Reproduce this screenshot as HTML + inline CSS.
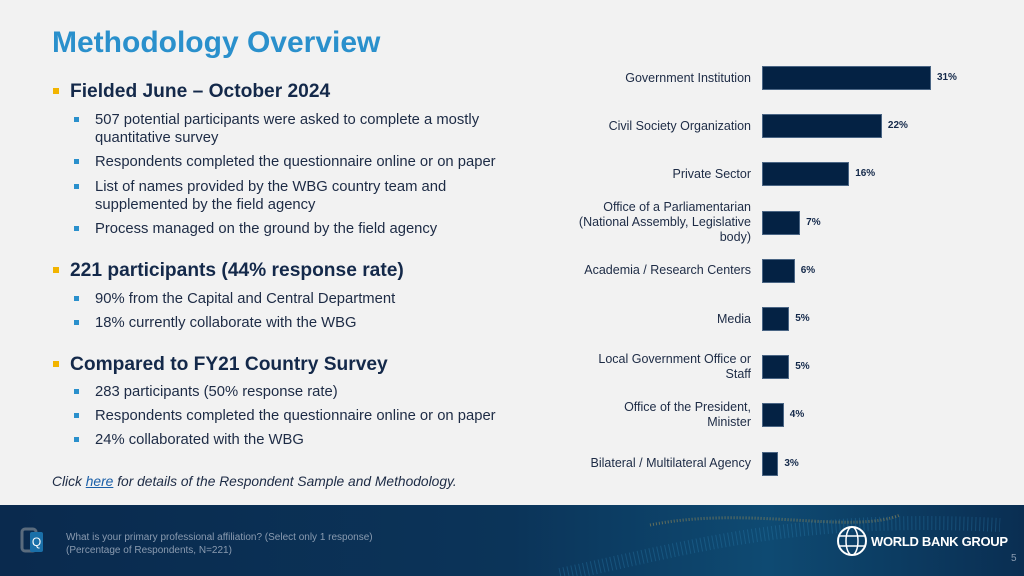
<!DOCTYPE html>
<html><head><meta charset="utf-8"><style>
body{margin:0;width:1024px;height:576px;overflow:hidden;background:#f2f2f2;font-family:"Liberation Sans",Arial,sans-serif;position:relative}
.a{position:absolute;white-space:nowrap}
.t{left:52px;top:26px;font-size:30px;font-weight:bold;color:#2a90cc;letter-spacing:0px}
.h{left:70px;font-size:19.2px;font-weight:bold;color:#14294a}
.hb{position:absolute;left:53px;width:6px;height:6px;background:#f2b400}
.s{left:95px;font-size:14.8px;color:#1d2b45;line-height:18px}
.sb{position:absolute;left:74px;width:5px;height:5px;background:#2a90cc}
.lbl{font-size:12.5px;color:#1d2b45;text-align:right;line-height:15px}
.val{font-size:10px;font-weight:bold;color:#14294a}
</style></head><body>
<div class="a t">Methodology Overview</div>

<div class="hb" style="top:88px"></div>
<div class="a h" style="top:81px">Fielded June – October 2024</div>
<div class="sb" style="top:117px"></div>
<div class="a s" style="top:111px">507 potential participants were asked to complete a mostly<br>quantitative survey</div>
<div class="sb" style="top:159px"></div>
<div class="a s" style="top:153px">Respondents completed the questionnaire online or on paper</div>
<div class="sb" style="top:184px"></div>
<div class="a s" style="top:178px">List of names provided by the WBG country team and<br>supplemented by the field agency</div>
<div class="sb" style="top:226px"></div>
<div class="a s" style="top:220px">Process managed on the ground by the field agency</div>

<div class="hb" style="top:267px"></div>
<div class="a h" style="top:260px">221 participants (44% response rate)</div>
<div class="sb" style="top:296px"></div>
<div class="a s" style="top:290px">90% from the Capital and Central Department</div>
<div class="sb" style="top:320px"></div>
<div class="a s" style="top:314px">18% currently collaborate with the WBG</div>

<div class="hb" style="top:361px"></div>
<div class="a h" style="top:354px">Compared to FY21 Country Survey</div>
<div class="sb" style="top:389px"></div>
<div class="a s" style="top:383px">283 participants (50% response rate)</div>
<div class="sb" style="top:413px"></div>
<div class="a s" style="top:407px">Respondents completed the questionnaire online or on paper</div>
<div class="sb" style="top:437px"></div>
<div class="a s" style="top:431px">24% collaborated with the WBG</div>

<div class="a" style="left:52px;top:474px;font-size:13.8px;font-style:italic;color:#1d2b45">Click <a href="#" style="color:#1a5fa8">here</a> for details of the Respondent Sample and Methodology.</div>

<div id="chart"></div>

<div class="a" style="left:0;top:505px;width:1024px;height:71px;background:linear-gradient(90deg,#0a2a4e 0%,#0b3459 50%,#0e4a72 75%,#0a2e52 100%)">
<svg width="1024" height="71" style="position:absolute;left:0;top:0">
<path d="M560 70 C700 40 800 10 1000 20" stroke="#2a7fb0" stroke-width="14" fill="none" opacity="0.35" stroke-dasharray="1 3"/>
<path d="M650 20 C750 0 850 30 900 10" stroke="#b59a50" stroke-width="3" fill="none" opacity="0.5" stroke-dasharray="1 2"/>
</svg>
<svg width="24" height="34" style="position:absolute;left:20px;top:22px"><rect x="2" y="2" width="14" height="22" rx="3" fill="none" stroke="#5a6b7d" stroke-width="3"/><rect x="10" y="5" width="13" height="20" rx="2" fill="#1a6fa8"/><text x="16.5" y="19" font-size="12" fill="#fff" text-anchor="middle" font-family="Liberation Sans">Q</text></svg>
<div class="a" style="left:66px;top:26px;font-size:10px;line-height:13px;color:#8a9bb0">What is your primary professional affiliation?  (Select only 1 response)<br>(Percentage of Respondents, N=221)</div>
<svg width="32" height="32" style="position:absolute;left:836px;top:20px"><circle cx="16" cy="16" r="14" fill="none" stroke="#fff" stroke-width="2"/><ellipse cx="16" cy="16" rx="6" ry="14" fill="none" stroke="#fff" stroke-width="1.5"/><path d="M3 11 H29 M3 21 H29" stroke="#fff" stroke-width="1.5"/></svg>
<div class="a" style="left:871px;top:29px;font-size:13px;font-weight:bold;color:#fff;letter-spacing:-0.3px">WORLD BANK GROUP</div>
<div class="a" style="left:1011px;top:48px;font-size:10px;color:#8a9bb0">5</div>
</div>

<script>
const categories=["Government Institution","Civil Society Organization","Private Sector","Office of a Parliamentarian<br>(National Assembly, Legislative<br>body)","Academia / Research Centers","Media","Local Government Office or<br>Staff","Office of the President,<br>Minister","Bilateral / Multilateral Agency"];
const values=[31,22,16,7,6,5,5,4,3];
const valueLabels=["31%","22%","16%","7%","6%","5%","5%","4%","3%"];
const x0=762, pxPerPt=5.45, y0=78, step=48.2, barH=24;
const xs=v=>x0+v*pxPerPt;
const ys=i=>y0+i*step;
const c=document.getElementById('chart');
values.forEach((v,i)=>{
 const b=document.createElement('div');
 b.className='a';
 b.style.cssText=`left:${x0}px;top:${ys(i)-barH/2}px;width:${xs(v)-x0}px;height:${barH}px;background:#042244;box-sizing:border-box;border:1px solid #4a6584`;
 
 
 c.appendChild(b);
 const t=document.createElement('div');
 t.className='a val';
 t.style.cssText=`left:${xs(v)+6}px;top:${ys(i)-6}px`;
 t.textContent=valueLabels[i];
 
 
 c.appendChild(t);
 const l=document.createElement('div');
 l.className='a lbl';
 const n=(categories[i].match(/<br>/g)||[]).length+1;
 l.style.cssText=`right:${1024-751}px;top:${ys(i)-n*7.5}px`;
 l.innerHTML=categories[i];
 
 
 c.appendChild(l);
});
</script>
</body></html>
